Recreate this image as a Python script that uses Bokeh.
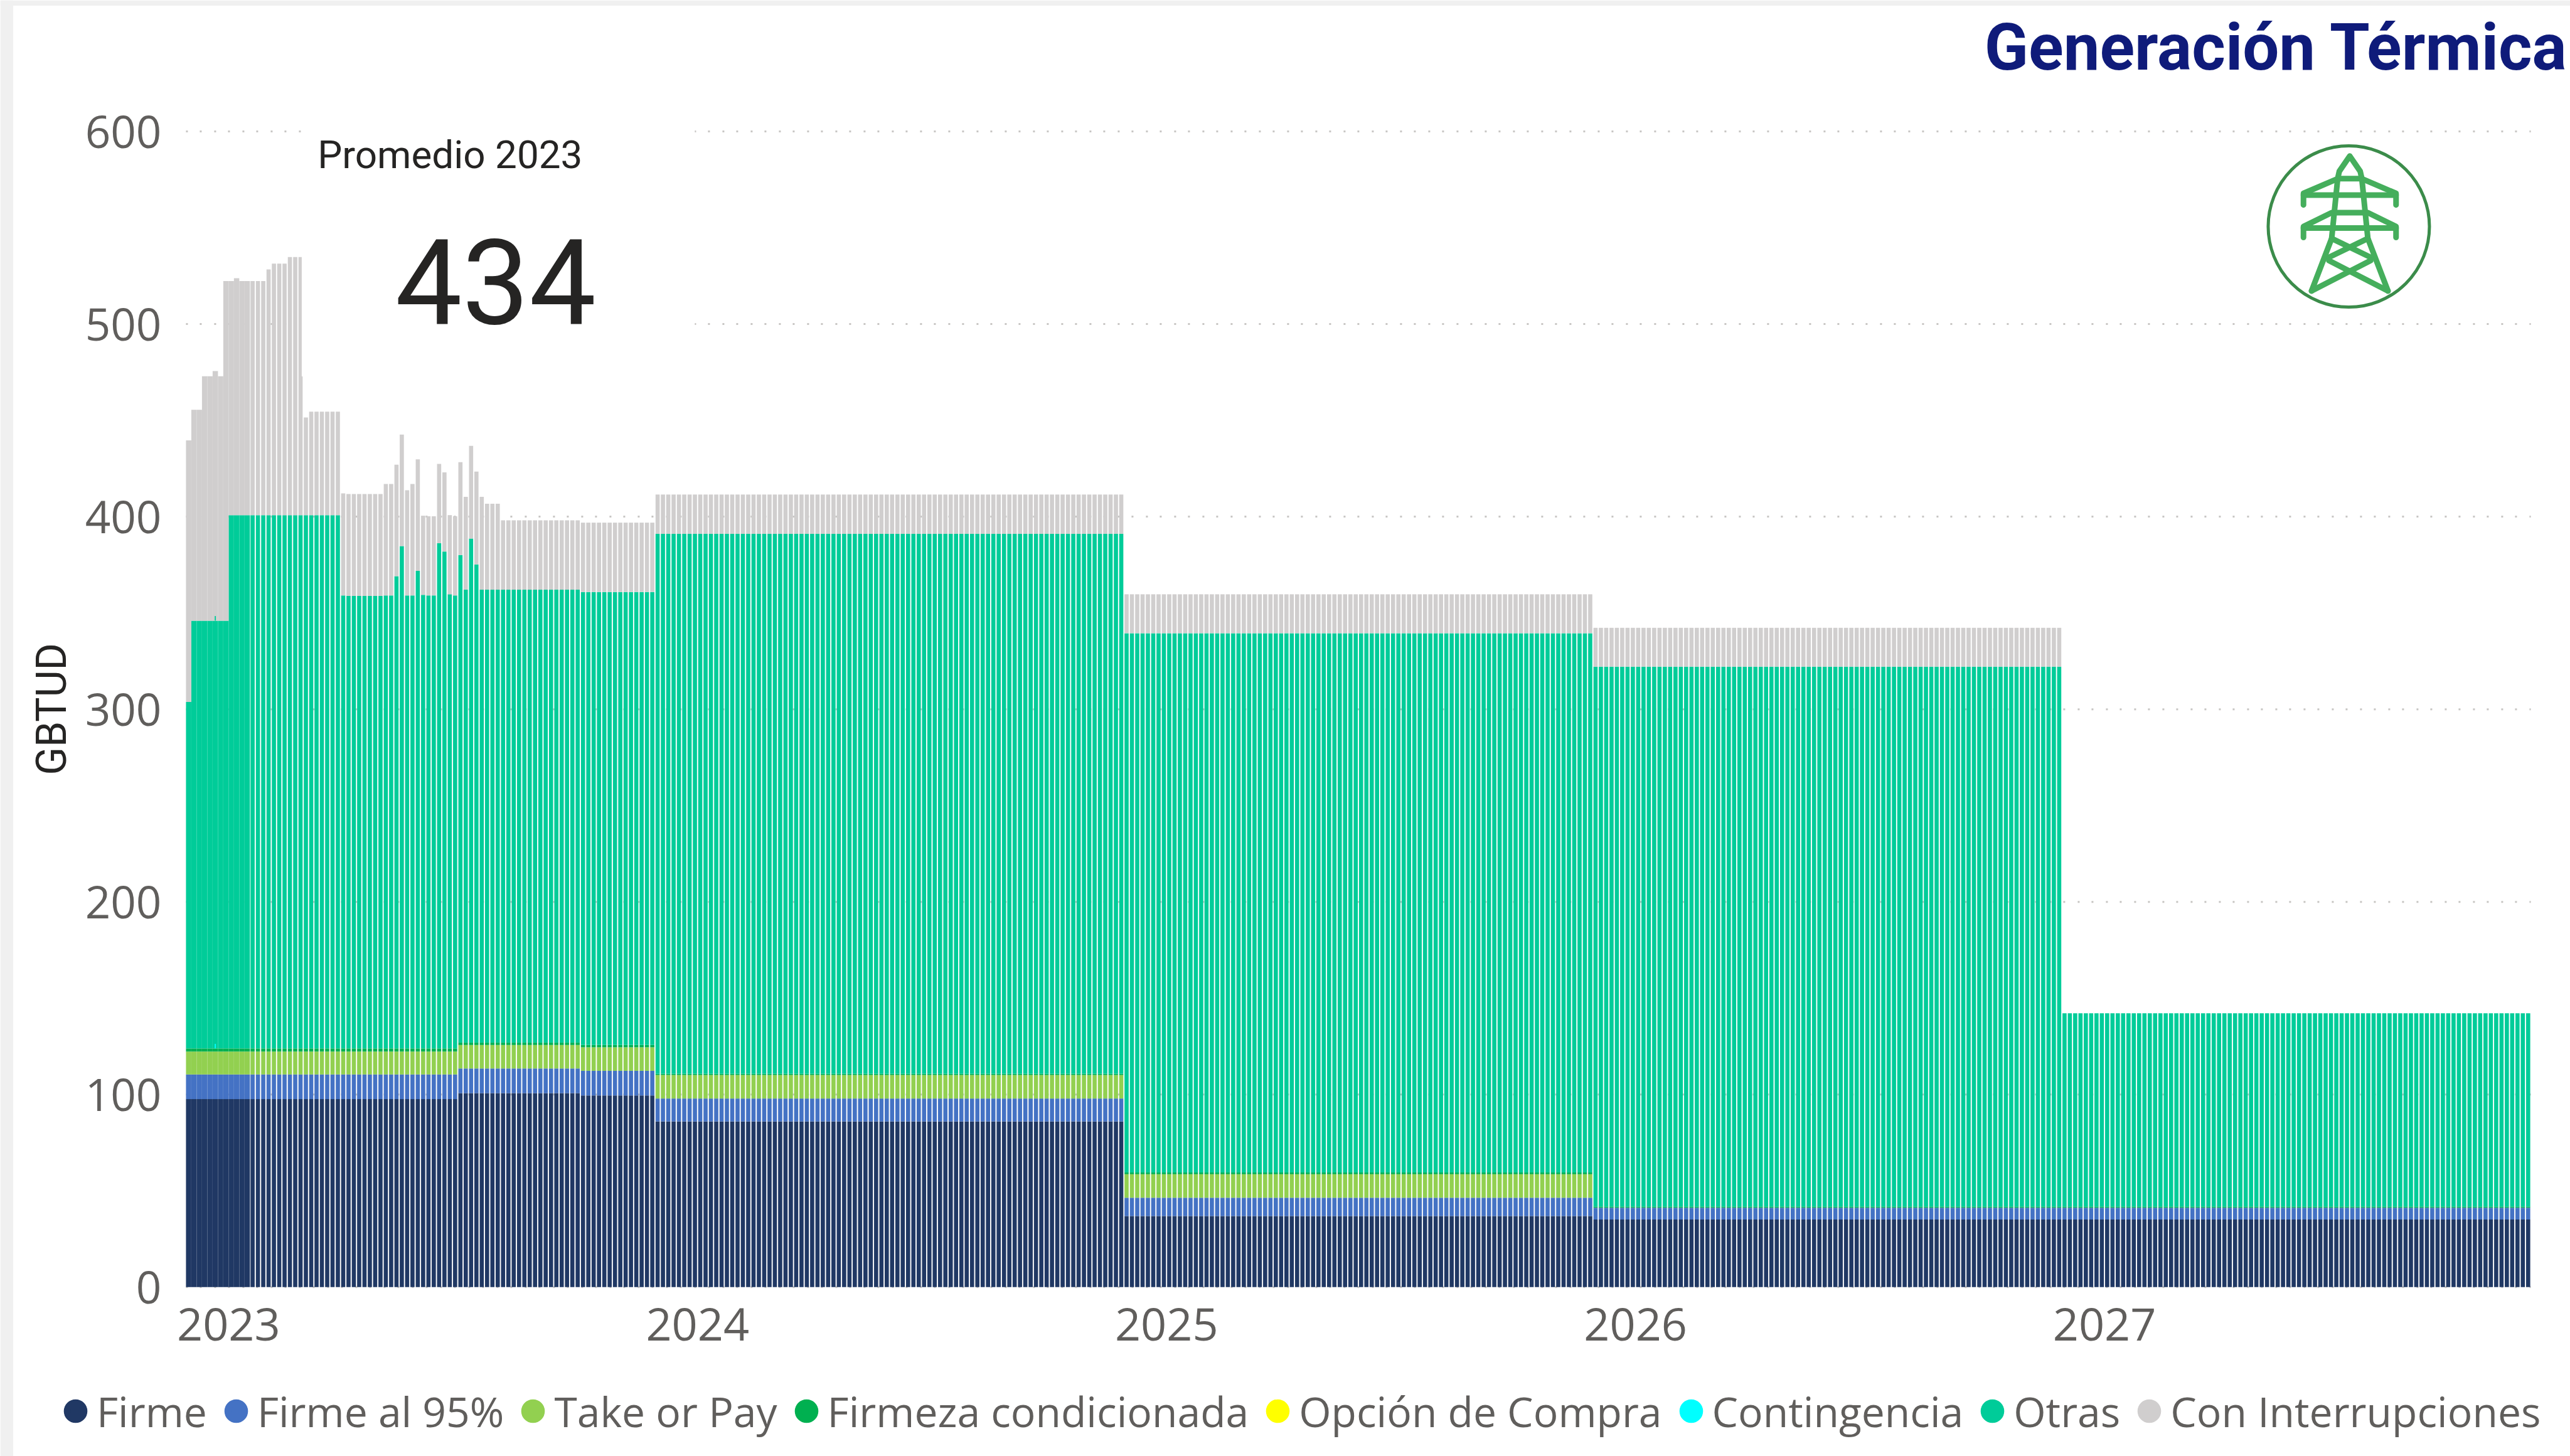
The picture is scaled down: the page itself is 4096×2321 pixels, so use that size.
from bokeh.plotting import figure
from bokeh.models import FixedTicker, Label, Legend, LegendItem
from bokeh.embed import file_html
from bokeh.resources import INLINE

# ---------- data (GBTUD) ----------
anios = ["2023", "2024", "2025", "2026", "2027"]
series = ["Firme", "Firme al 95%", "Take or Pay", "Firmeza condicionada",
          "Opción de Compra", "Contingencia", "Otras", "Con Interrupciones"]
colores = ["#203864", "#4472C4", "#92D050", "#00B050",
           "#FFFF00", "#00FFFF", "#00CC99", "#D0CECE"]
y_ticks = [0, 100, 200, 300, 400, 500, 600]

firme = [97.6]*51 + [100.7]*23 + [99.5]*14 + [86.0]*88 + [36.9]*88 + [35.1]*88 + [35.1]*88
firme95 = [12.8]*51 + [12.8]*23 + [12.8]*14 + [11.9]*88 + [9.5]*88 + [6.1]*88 + [6.1]*88
take_or_pay = [11.9]*51 + [12.2]*23 + [12.2]*14 + [12.2]*88 + [12.2]*88 + [0.0]*88 + [0.0]*88
firmeza_cond = [1.6]*51 + [1.2]*23 + [1.2]*14 + [0.6]*88 + [0.9]*88 + [0.6]*88 + [0.6]*88
contingencia = [0.0]*5 + [2.4] + [0.0]*434

# upper edge of "Otras" in the stack
otras_tope = ([303.8] + [346.0]*7 + [400.8]*21 +
              [359.1, 358.8, 358.8, 358.8, 358.8, 358.8, 358.8, 358.8, 359.1, 359.1,
               369.1, 384.7, 359.1, 359.1, 371.9, 359.4, 359.1, 359.1, 386.2, 381.9,
               359.7, 359.1, 380.1, 362.1, 388.6, 375.2] +
              [362.1]*19 + [360.9]*14 + [391.1]*88 + [339.5]*88 + [322.1]*88 + [142.2]*88)
# overall upper edge of the stack ("Con Interrupciones")
total_tope = ([439.6, 455.5, 455.5, 472.9, 472.9, 475.6, 472.9, 522.3, 522.3, 523.8,
               522.3, 522.3, 522.3, 522.3, 522.3, 528.4, 531.4, 531.4, 531.4, 534.8,
               534.8, 534.8, 451.5, 454.5, 454.5, 454.5, 454.5, 454.5, 454.5, 412.1,
               411.8, 411.8, 411.8, 411.8, 411.8, 411.8, 411.8, 417.0, 417.0, 427.0,
               442.6, 413.7, 417.0, 429.8, 400.5, 400.2, 400.2, 427.4, 423.0, 400.8,
               400.2, 428.3, 410.3, 436.8, 423.4, 410.3, 406.7, 406.7, 406.7] +
              [398.1]*15 + [396.9]*14 + [411.5]*88 + [359.7]*88 + [342.3]*88 + [142.2]*88)

BARS_PER_YEAR = 88
N = len(firme)

# ---------- layout: the frame fills the canvas; ranges map reference pixels ----------
W, H = 4096, 2321
REF_W, REF_H = 4374, 2478
PITCH = 9.07      # reference px per bar
PXU = 3.278       # reference px per GBTUD
BASE_Y = 2190     # reference y of value 0
LEFT_X = 316      # reference x of the first bar's left edge

def xd(rx):
    return -0.5 + (rx - LEFT_X) / PITCH

def yd(ry):
    return (BASE_Y - ry) / PXU

p = figure(width=W, height=H, x_range=(xd(0), xd(REF_W)), y_range=(yd(REF_H), yd(0)),
           output_backend="svg", toolbar_location=None,
           min_border_left=0, min_border_right=0, min_border_top=0, min_border_bottom=0)
p.outline_line_color = None
p.background_fill_color = "white"
p.border_fill_color = "white"
p.xgrid.visible = False
p.ygrid.visible = False

# ---------- axes ----------
TICK_FONT = "Open Sans"
p.yaxis.fixed_location = -0.5
p.yaxis.bounds = (0, 600)
p.yaxis.ticker = FixedTicker(ticks=y_ticks)
p.yaxis.axis_line_color = None
p.yaxis.major_tick_line_color = None
p.yaxis.minor_tick_line_color = None
p.yaxis.major_label_standoff = 33
p.yaxis.major_label_text_font = TICK_FONT
p.yaxis.major_label_text_font_size = "71px"
p.yaxis.major_label_text_color = "#605E5C"
p.yaxis.axis_label = "GBTUD"
p.yaxis.axis_label_text_font = "Roboto"
p.yaxis.axis_label_text_font_style = "normal"
p.yaxis.axis_label_text_font_size = "66px"
p.yaxis.axis_label_text_color = "#252423"
p.yaxis.axis_label_standoff = 12

lugares = [7.5 + k * BARS_PER_YEAR for k in range(len(anios))]
p.xaxis.fixed_location = 0
p.xaxis.ticker = FixedTicker(ticks=lugares)
p.xaxis.major_label_overrides = {t: a for t, a in zip(lugares, anios)}
p.xaxis.axis_line_color = None
p.xaxis.major_tick_line_color = None
p.xaxis.minor_tick_line_color = None
p.xaxis.major_label_standoff = 27
p.xaxis.major_label_text_font = TICK_FONT
p.xaxis.major_label_text_font_size = "72px"
p.xaxis.major_label_text_color = "#605E5C"

# ---------- dotted value lines ----------
p.segment(x0=[-0.5]*len(y_ticks), x1=[N - 0.5]*len(y_ticks), y0=y_ticks, y1=y_ticks,
          line_color="#C8C6C4", line_width=3, line_dash="3 19 3 20")

# ---------- bars ----------
xs = list(range(N))
anchos = [1.0 if i < 12 else 0.78 for i in xs]
acum = [0.0] * N
for vals, col in zip([firme, firme95, take_or_pay, firmeza_cond], colores[:4]):
    arriba = [a + v for a, v in zip(acum, vals)]
    p.vbar(x=xs, width=anchos, bottom=acum, top=arriba, fill_color=col, line_color=None)
    acum = arriba

p.vbar(x=xs, width=anchos, bottom=acum, top=otras_tope, fill_color=colores[6], line_color=None)
gris_x = [x for x, t, o in zip(xs, total_tope, otras_tope) if t > o]
gris_w = [anchos[x] for x in gris_x]
p.vbar(x=gris_x, width=gris_w, bottom=[otras_tope[x] for x in gris_x],
       top=[total_tope[x] for x in gris_x], fill_color=colores[7], line_color=None)

# narrow contingency mark, which pushes a sliver of "Otras" up
cx = [x for x in xs if contingencia[x] > 0]
p.vbar(x=cx, width=0.22, bottom=[otras_tope[x] for x in cx],
       top=[otras_tope[x] + contingencia[x] for x in cx], fill_color=colores[6], line_color=None)
p.vbar(x=cx, width=0.22, bottom=[acum[x] for x in cx],
       top=[acum[x] + contingencia[x] for x in cx], fill_color=colores[5], line_color=None)

# white card behind "Promedio 2023"
p.quad(left=[xd(513)], right=[xd(1182)], top=[yd(150)], bottom=[yd(640)],
       fill_color="white", line_color=None)

# grey strips of the page
p.quad(left=[xd(0), xd(0)], right=[xd(22), xd(REF_W)], top=[yd(0), yd(0)],
       bottom=[yd(REF_H), yd(9)], fill_color="#F0F0F0", line_color=None)

# ---------- legend ----------
items = []
for nombre, col in zip(series, colores):
    r = p.scatter(x=[float("nan")], y=[float("nan")], marker="circle", size=10,
                  fill_color=col, line_color=col, line_width=10.4)
    items.append(LegendItem(label=nombre, renderers=[r]))
GLYPH = 68
leg = Legend(items=items, orientation="horizontal", location=(86, 27),
             glyph_width=GLYPH, glyph_height=GLYPH, label_standoff=0, spacing=12,
             padding=0, margin=0, background_fill_alpha=0, border_line_color=None,
             label_text_font="Open Sans", label_text_font_size="66px",
             label_text_color="#605E5C", label_text_baseline="middle")
p.add_layout(leg, "center")

# ---------- texts ----------
p.add_layout(Label(x=xd(3377), y=yd(80), text="Generación Térmica",
                   text_font="Roboto", text_font_style="bold",
                   text_font_size="103px", text_color="#0F1B7A", text_baseline="alphabetic"))
p.add_layout(Label(x=xd(540), y=yd(263), text="Promedio 2023", text_font="Roboto",
                   text_font_size="62px", text_color="#252423", text_baseline="alphabetic"))
p.add_layout(Label(x=xd(672), y=yd(478), text="434", text_font="Roboto",
                   text_font_size="190px", text_color="#252423", text_baseline="alphabetic"))

# ---------- logo (ref zoom coordinates) ----------
def zx(v):
    return xd(3300 + v / 1.46)

def zy(v):
    return yd(v / 2.8)

torre = [
    [(990, 850), (994, 815), (1020, 742), (1046, 815), (1050, 850)],
    [(990, 850), (975, 1135), (925, 1385)],
    [(1050, 850), (1065, 1135), (1115, 1385)],
    [(905, 975), (905, 920), (990, 850), (1050, 850), (1135, 920), (1135, 975)],
    [(905, 928), (1135, 928)],
    [(978, 1012), (1062, 1012)],
    [(905, 1130), (905, 1078), (975, 1012)],
    [(1135, 1130), (1135, 1078), (1065, 1012)],
    [(905, 1085), (1135, 1085)],
    [(975, 1135), (1072, 1225)],
    [(1065, 1135), (968, 1225)],
    [(968, 1240), (1115, 1385)],
    [(1072, 1240), (925, 1385)],
]
p.multi_line(xs=[[zx(a) for a, b in t] for t in torre], ys=[[zy(b) for a, b in t] for t in torre],
             line_color="#45AE5C", line_width=9, line_cap="round", line_join="round")
p.scatter(x=[xd(3997)], y=[yd(385)], marker="circle", size=257, fill_color=None,
          line_color="#3B8C4A", line_width=5)

open("out.html", "w").write(file_html(p, INLINE))
